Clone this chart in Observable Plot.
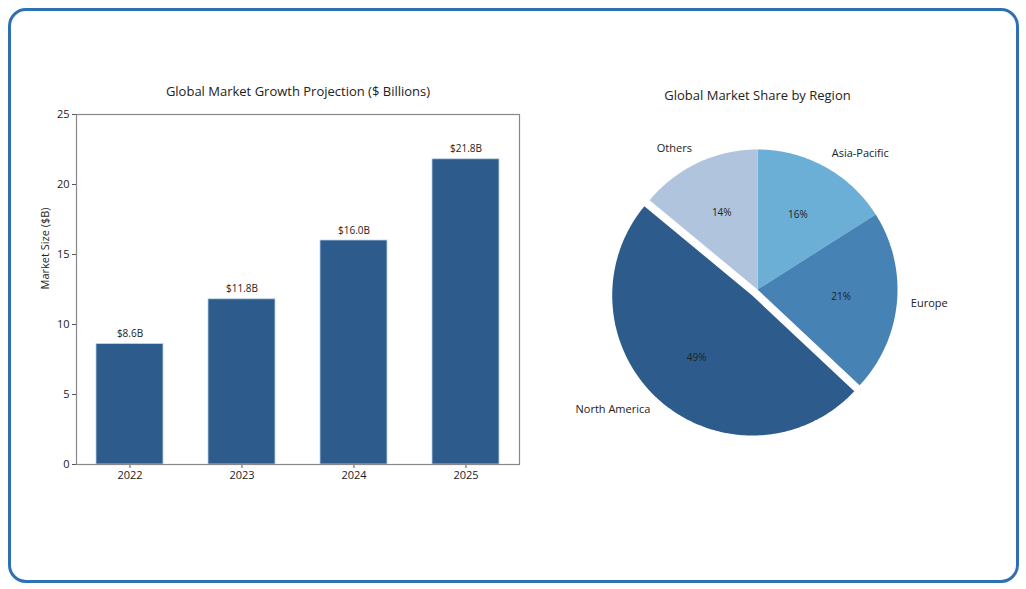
<!DOCTYPE html>
<html>
<head>
<meta charset="utf-8">
<script src="https://cdn.jsdelivr.net/npm/d3@7"></script>
<script src="https://cdn.jsdelivr.net/npm/@observablehq/plot@0.6"></script>
<style>
  html, body { margin: 0; padding: 0; background: #fff; }
  body { width: 1026px; height: 589px; position: relative; overflow: hidden; font-family: "Open Sans", sans-serif; }
  #frame { position: absolute; left: 8px; top: 8px; width: 1005px; height: 569px; border: 3px solid #2f6fb3; border-radius: 18px; box-sizing: content-box; }
  #bars { position: absolute; left: 0; top: 0; }
  #pie { position: absolute; left: 540px; top: 0; }
</style>
</head>
<body>
<div id="frame"></div>
<div id="bars"></div>
<div id="pie"></div>
<script>
// ---- data ----
const years = ["2022", "2023", "2024", "2025"];
const marketSize = [8.6, 11.8, 16.0, 21.8];
const yTicks = [0, 5, 10, 15, 20, 25];

const regions = ["Asia-Pacific", "Europe", "North America", "Others"];
const shares = [16, 21, 49, 14];
const sliceColors = ["#6baed6", "#4682b4", "#2c5b8c", "#b0c4de"];
const exploded = [0, 0, 0.057, 0];

const barTitle = "Global Market Growth Projection ($ Billions)";
const pieTitle = "Global Market Share by Region";
const yLabel = "Market Size ($B)";

const FONT = "Open Sans, sans-serif";

// ---- bar chart ----
const barData = years.map((y, i) => ({year: y, value: marketSize[i]}));

const bars = Plot.plot({
  width: 540,
  height: 589,
  marginLeft: 76,
  marginRight: 21,
  marginTop: 114,
  marginBottom: 125,
  style: {fontFamily: FONT, fontSize: "11px", color: "#222", background: "transparent"},
  x: {domain: years, paddingInner: 0.4, paddingOuter: 0.172, label: null, tickSize: 4, tickPadding: 3},
  y: {domain: [0, 25], ticks: yTicks, label: null, tickSize: 4, tickPadding: 3},
  marks: [
    Plot.barY(barData, {x: "year", y: "value", fill: "#2c5b8c", stroke: "#bcd4ec", strokeWidth: 0.8}),
    Plot.text(barData, {x: "year", y: "value", text: d => `$${d.value.toFixed(1)}B`, dy: -7, lineAnchor: "bottom", fontSize: 10, fill: "#222"}),
    Plot.axisX({tickSize: 4, tickPadding: 3, stroke: "#555", fontSize: 11}),
    Plot.axisY({ticks: yTicks, tickSize: 4, tickPadding: 3, stroke: "#555", fontSize: 11}),
    Plot.frame({stroke: "#888", strokeWidth: 1.2}),
    Plot.text([barTitle], {frameAnchor: "top", dy: -19, lineAnchor: "bottom", fontSize: 13, fill: "#222"}),
    Plot.text([yLabel], {frameAnchor: "left", dx: -31, rotate: -90, fontSize: 11, fill: "#222"})
  ]
});
document.getElementById("bars").appendChild(bars);

// ---- pie chart ----
const pieGen = d3.pie().sort(null).value(d => d.share);
const pieInput = regions.map((r, i) => ({region: r, share: shares[i], color: sliceColors[i], explode: exploded[i]}));
const arcs = pieGen(pieInput);

const slicePts = [];
const labels = [];
const pcts = [];
arcs.forEach(a => {
  const d = a.data;
  const mid = (a.startAngle + a.endAngle) / 2;
  const ox = Math.sin(mid) * d.explode, oy = Math.cos(mid) * d.explode;
  slicePts.push({region: d.region, color: d.color, x: ox, y: oy});
  const n = Math.max(2, Math.ceil((a.endAngle - a.startAngle) / (Math.PI / 180)));
  for (let k = 0; k <= n; k++) {
    const t = a.startAngle + (a.endAngle - a.startAngle) * k / n;
    slicePts.push({region: d.region, color: d.color, x: ox + Math.sin(t), y: oy + Math.cos(t)});
  }
  slicePts.push({region: d.region, color: d.color, x: ox, y: oy});
  labels.push({text: d.region, x: ox + 1.1 * Math.sin(mid), y: oy + 1.1 * Math.cos(mid), anchor: Math.sin(mid) >= 0 ? "start" : "end"});
  pcts.push({text: `${d.share}%`, x: ox + 0.6 * Math.sin(mid), y: oy + 0.6 * Math.cos(mid)});
});

const pie = Plot.plot({
  width: 486,
  height: 589,
  marginLeft: 7,
  marginRight: 59,
  marginTop: 79,
  marginBottom: 90,
  style: {fontFamily: FONT, fontSize: "11px", color: "#222", background: "transparent"},
  x: {domain: [-1.5, 1.5], axis: null},
  y: {domain: [-1.5, 1.5], axis: null},
  marks: [
    Plot.line(slicePts, {x: "x", y: "y", z: "region", fill: "color", stroke: "none", curve: "linear"}),
    Plot.text(pcts, {x: "x", y: "y", text: "text", dy: -1, fontSize: 10, fill: "#222"}),
    Plot.text(labels.filter(l => l.anchor === "start"), {x: "x", y: "y", text: "text", dy: -1, textAnchor: "start", fontSize: 11, fill: "#222"}),
    Plot.text(labels.filter(l => l.anchor === "end"), {x: "x", y: "y", text: "text", dy: -2, textAnchor: "end", fontSize: 11, fill: "#222"}),
    Plot.text([pieTitle], {frameAnchor: "top", dy: 16, lineAnchor: "middle", fontSize: 13, fill: "#222"})
  ]
});
document.getElementById("pie").appendChild(pie);
</script>
</body>
</html>
